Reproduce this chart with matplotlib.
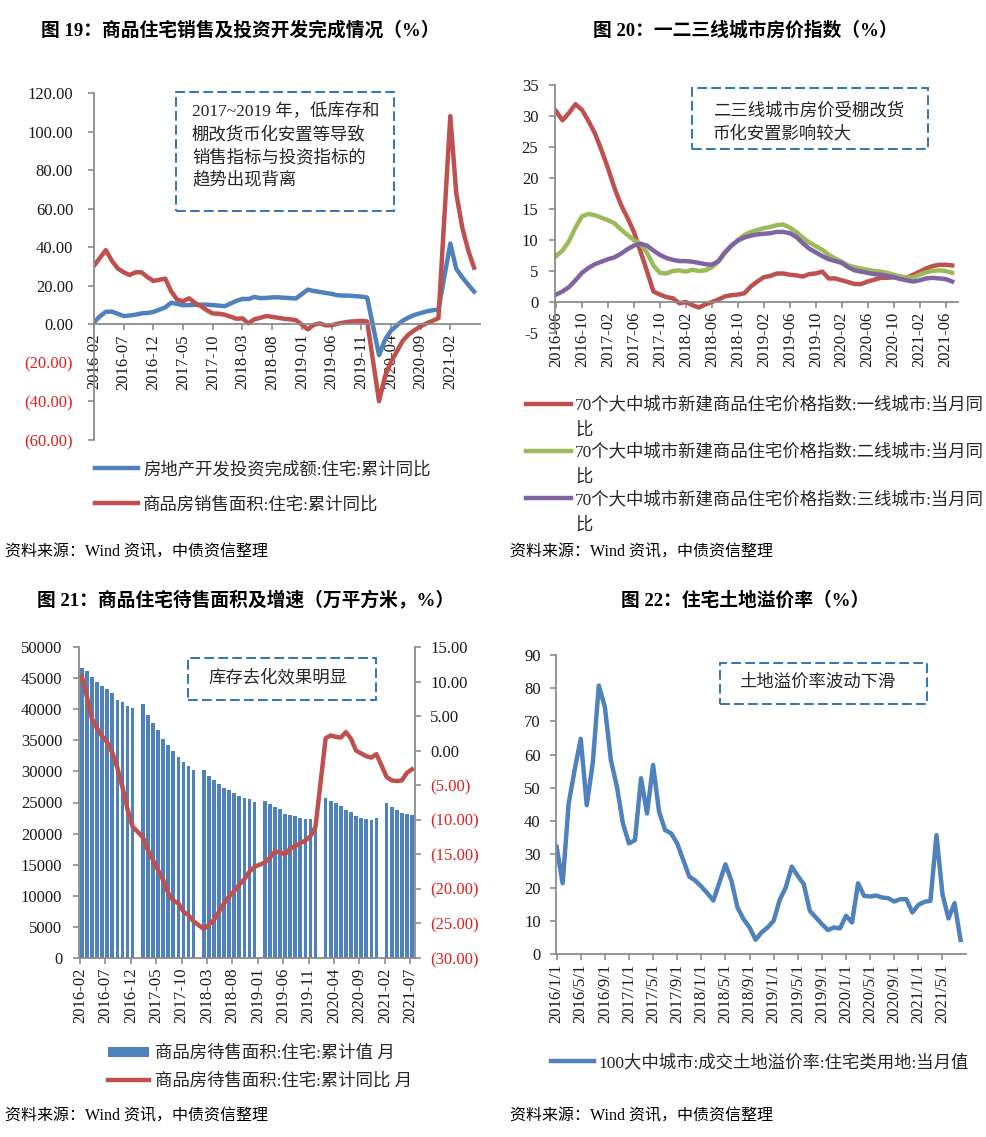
import matplotlib
matplotlib.use("Agg")
import matplotlib.pyplot as plt
from matplotlib.patches import Rectangle
import numpy as np
import pandas as pd

plt.rcParams['font.family'] = ['Liberation Serif', 'Noto Sans CJK SC']
plt.rcParams['axes.unicode_minus'] = False

W, H = 987, 1137
BLUE = '#4F81BD'
RED = '#C0504D'
GREEN = '#9BBB59'
PURPLE = '#8064A2'
AXC = '#8c8c8c'
BOXC = '#2E75B6'
NEG = '#E0201E'
TXT = '#1a1a1a'

# ---------------- data ----------------
# Fig 19: cumulative YoY (%), 2016-02 .. 2021-06, no January release
p1_months = [p for p in pd.period_range('2016-02', '2021-06', freq='M') if p.month != 1]
invest_yoy = [1.0, 4.2, 6.5, 6.6, 5.5, 4.3, 4.6, 5.0, 5.7, 5.9, 6.4,
              8.8, 11.2, 10.6, 9.9, 10.0, 10.1, 10.2, 10.2, 10.0, 9.7, 9.4,
              12.2, 13.2, 13.1, 14.2, 13.6, 13.7, 14.0, 14.0, 13.8, 13.6, 13.4,
              18.0, 17.3, 16.8, 16.3, 15.8, 15.1, 14.9, 14.9, 14.6, 14.4, 13.9,
              -16.0, -8.0, -3.3, -0.6, 1.9, 3.6, 4.9, 5.8, 6.7, 7.3, 7.6,
              41.9, 28.8, 24.4, 20.6, 17.0]
sales_yoy = [30.4, 34.5, 38.5, 33.0, 29.0, 27.0, 25.6, 27.0, 27.0, 24.5, 22.5,
             23.7, 17.1, 12.8, 12.0, 13.5, 11.1, 9.4, 7.3, 5.6, 5.5, 5.0,
             2.9, 3.1, 0.5, 2.6, 3.4, 4.3, 3.9, 3.4, 2.9, 2.6, 2.2,
             -2.6, -0.3, 0.5, -0.5, -0.5, 0.3, 0.9, 1.4, 1.6, 1.8, 1.5,
             -39.9, -27.0, -19.5, -14.0, -8.5, -5.2, -3.0, -1.0, 0.5, 1.8, 3.2,
             108.0, 68.0, 50.4, 38.5, 29.4]
p1_labels = ['房地产开发投资完成额:住宅:累计同比', '商品房销售面积:住宅:累计同比']

# Fig 20: 70-city new home price index YoY (%), 2016-06 .. 2021-07
p2_months = list(pd.period_range('2016-06', '2021-07', freq='M'))
tier1 = [30.8, 29.3, 30.5, 31.9, 31.0, 29.2, 27.2, 24.5, 21.6, 18.4,
         15.7, 13.6, 11.3, 8.2, 5.0, 1.7, 1.2, 0.8, 0.6, -0.2,
         0.0, -0.5, -0.9, -0.4, 0.0, 0.4, 0.9, 1.1, 1.2, 1.4,
         2.5, 3.3, 4.0, 4.2, 4.6, 4.6, 4.4, 4.3, 4.1, 4.5,
         4.6, 4.9, 3.8, 3.8, 3.5, 3.2, 2.9, 2.9, 3.3, 3.6,
         3.9, 3.9, 4.0, 4.1, 3.9, 4.4, 4.9, 5.4, 5.8, 6.0,
         6.0, 5.9]
tier2 = [7.4, 8.3, 9.8, 12.0, 13.8, 14.2, 14.0, 13.6, 13.2, 12.7,
         11.7, 10.8, 10.0, 9.4, 8.0, 5.9, 4.7, 4.6, 5.0, 5.1,
         4.9, 5.2, 5.0, 5.1, 5.6, 6.5, 7.9, 9.0, 10.0, 10.8,
         11.3, 11.6, 11.9, 12.1, 12.4, 12.5, 12.0, 11.3, 10.4, 9.6,
         9.0, 8.4, 7.6, 7.0, 6.5, 5.9, 5.6, 5.4, 5.2, 5.0,
         4.9, 4.7, 4.4, 4.1, 3.9, 4.0, 4.4, 4.8, 5.0, 5.1,
         5.0, 4.7]
tier3 = [1.2, 1.7, 2.4, 3.5, 4.7, 5.5, 6.1, 6.5, 6.9, 7.2,
         7.8, 8.5, 9.1, 9.4, 9.1, 8.3, 7.6, 7.1, 6.8, 6.6,
         6.6, 6.5, 6.3, 6.1, 6.0, 6.6, 8.0, 9.1, 9.9, 10.4,
         10.7, 10.9, 11.0, 11.1, 11.3, 11.3, 11.1, 10.5, 9.5, 8.6,
         8.0, 7.4, 6.9, 6.6, 6.3, 5.6, 5.1, 4.9, 4.7, 4.5,
         4.4, 4.2, 4.0, 3.7, 3.5, 3.3, 3.5, 3.8, 3.9, 3.8,
         3.7, 3.3]
p2_labels = ['70个大中城市新建商品住宅价格指数:一线城市:当月同\n比',
             '70个大中城市新建商品住宅价格指数:二线城市:当月同\n比',
             '70个大中城市新建商品住宅价格指数:三线城市:当月同\n比']

# Fig 21: residential floor space for sale (10k m2) and YoY (%), 2016-02 .. 2021-07
p3_months = [p for p in pd.period_range('2016-02', '2021-07', freq='M') if p.month != 1]
stock = [46680, 46140, 45180, 44380, 43680, 43300, 42660, 41430, 41160, 40470, 40250,
         40790, 39130, 37850, 36610, 35270, 34210, 33240, 32330, 31530, 30890, 30300,
         30190, 29280, 28590, 28050, 27410, 26980, 26550, 26070, 25750, 25530, 25110,
         25270, 24730, 24300, 23930, 23230, 22960, 22800, 22540, 22380, 22320, 22280,
         25800, 25270, 24840, 24410, 23870, 23500, 22860, 22430, 22320, 22160, 22480,
         24840, 24200, 23770, 23390, 23230, 22910]
stock_yoy = [10.7, 7.8, 4.6, 3.2, 2.1, 1.2, -0.3, -2.5, -5.3, -8.5, -11.0,
             -12.5, -14.4, -15.8, -17.3, -18.7, -20.6, -21.7, -22.1, -23.3, -23.8, -24.7,
             -25.8, -25.2, -24.5, -23.3, -22.1, -21.1, -20.3, -19.4, -18.6, -17.5, -16.8,
             -16.2, -15.5, -14.6, -14.7, -15.0, -14.2, -13.8, -13.4, -13.0, -12.4, -11.0,
             1.8, 2.2, 2.0, 1.9, 2.7, 1.7, 0.0, -0.4, -0.8, -1.0, -0.5,
             -3.8, -4.3, -4.4, -4.3, -3.2, -2.7]
p3_labels = ['商品房待售面积:住宅:累计值 月', '商品房待售面积:住宅:累计同比 月']

# Fig 22: land premium rate (%), 2016-01 .. 2021-08
p4_months = list(pd.period_range('2016-01', '2021-08', freq='M'))
premium = [32.3, 21.3, 45.3, 55.5, 64.8, 44.8, 57.5, 80.8, 74.4, 58.4,
           50.4, 39.3, 33.3, 34.3, 52.9, 42.3, 56.9, 42.8, 37.3, 36.3,
           33.3, 28.3, 23.3, 22.1, 20.3, 18.3, 16.1, 21.5, 27.0, 22.0,
           14.0, 10.5, 8.0, 4.3, 6.5, 8.0, 10.0, 16.3, 20.0, 26.3,
           23.5, 21.0, 13.0, 11.0, 9.0, 7.2, 8.0, 7.7, 11.5, 9.5,
           21.3, 17.5, 17.3, 17.6, 17.0, 16.8, 15.8, 16.5, 16.5, 12.5,
           14.8, 15.7, 16.0, 35.8, 18.0, 10.7, 15.3, 4.2]
p4_label = '100大中城市:成交土地溢价率:住宅类用地:当月值'

titles = ['图 19：商品住宅销售及投资开发完成情况（%）', '图 20：一二三线城市房价指数（%）',
          '图 21：商品住宅待售面积及增速（万平方米，%）', '图 22：住宅土地溢价率（%）']
source = '资料来源：Wind 资讯，中债资信整理'


# ---------------- helpers ----------------
fig = plt.figure(figsize=(W / 100, H / 100), dpi=100)


def add_ax(l, t, r, b):
    return fig.add_axes([l / W, 1 - b / H, (r - l) / W, (b - t) / H])


def idx(months, start):
    return [(p - start).n for p in months]


def style(ax, ypad=8):
    for s in ['top', 'right']:
        ax.spines[s].set_visible(False)
    for s in ['left', 'bottom']:
        ax.spines[s].set_color(AXC)
        ax.spines[s].set_linewidth(1.3)
    ax.tick_params(axis='both', colors=AXC, labelcolor=TXT, labelsize=12,
                   direction='out', length=4, width=1.2)
    ax.tick_params(axis='y', pad=ypad)
    ax.tick_params(axis='x', pad=3)
    ax.set_facecolor('none')


def fmt_neg(ax, ticks):
    labels = [f'{v:.2f}' if v >= 0 else f'({abs(v):.2f})' for v in ticks]
    ax.set_yticks(ticks)
    ax.set_yticklabels(labels)
    for t, v in zip(ax.get_yticklabels(), ticks):
        t.set_color(NEG if v < 0 else TXT)


def fig_px(x, y):
    return x / W, 1 - y / H


def note(x0, y0, x1, y1, lines, tx, ty, dy=23):
    fig.add_artist(Rectangle(fig_px(x0, y1), (x1 - x0) / W, (y1 - y0) / H,
                             transform=fig.transFigure, fill=False, ec=BOXC,
                             lw=1.4, ls=(0, (5, 2.2))))
    for i, s in enumerate(lines):
        fig.text(*fig_px(tx, ty + i * dy), s, ha='left', va='center',
                 fontsize=12.5, color='#262626')


LW = 3.2

# ---------------- Fig 19 ----------------
ax1 = add_ax(94, 93, 480, 440)
style(ax1, ypad=11)
x1 = idx(p1_months, p1_months[0])
ax1.plot(x1, invest_yoy, color=BLUE, lw=LW, solid_joinstyle='round', label=p1_labels[0])
ax1.plot(x1, sales_yoy, color=RED, lw=LW, solid_joinstyle='round', label=p1_labels[1])
ax1.set_xlim(0, 65)
ax1.set_ylim(-60, 120)
fmt_neg(ax1, list(range(-60, 121, 20)))
ax1.spines['bottom'].set_position(('data', 0))
t1 = [p1_months[0] + 5 * i for i in range(13)]
ax1.set_xticks(idx(t1, p1_months[0]))
ax1.set_xticklabels([p.strftime('%Y-%m') for p in t1], rotation=90)
ax1.legend(loc='upper left', bbox_to_anchor=fig_px(86, 453), bbox_transform=fig.transFigure,
           frameon=False, fontsize=12.5, handlelength=2.5, handletextpad=0.3,
           labelspacing=1.05, borderpad=0, labelcolor='#262626')

# ---------------- Fig 20 ----------------
ax2 = add_ax(555, 85, 958, 333)
style(ax2, ypad=8)
x2 = idx(p2_months, p2_months[0])
ax2.plot(x2, tier1, color=RED, lw=LW, solid_joinstyle='round', label=p2_labels[0])
ax2.plot(x2, tier2, color=GREEN, lw=LW, solid_joinstyle='round', label=p2_labels[1])
ax2.plot(x2, tier3, color=PURPLE, lw=LW, solid_joinstyle='round', label=p2_labels[2])
ax2.set_xlim(-0.15, 61.9)
ax2.set_ylim(-5, 35)
ax2.set_yticks(range(-5, 36, 5))
ax2.spines['bottom'].set_position(('data', 0))
t2 = [p2_months[0] + 4 * i for i in range(16)]
ax2.set_xticks(idx(t2, p2_months[0]))
ax2.set_xticklabels([p.strftime('%Y-%m') for p in t2], rotation=90)
leg2 = ax2.legend(loc='upper left', bbox_to_anchor=fig_px(517, 388), bbox_transform=fig.transFigure,
                  frameon=False, fontsize=12.5, handlelength=2.6, handletextpad=0.25,
                  handleheight=1.0, labelspacing=0.3, borderpad=0, labelcolor='#262626')
for t in leg2.get_texts():
    t.set_linespacing(1.7)
try:
    for col in leg2._legend_handle_box.get_children():
        for row in col.get_children():
            row.align = 'top'
except Exception:
    pass

# ---------------- Fig 21 ----------------
ax3 = add_ax(79, 647, 415, 958)
style(ax3, ypad=8)
ax3r = ax3.twinx()
x3 = np.array(idx(p3_months, p3_months[0])) + 0.36
bars = ax3.bar(x3, stock, width=0.72, color=BLUE, edgecolor='none', label=p3_labels[0])
line3, = ax3r.plot(x3, stock_yoy, color=RED, lw=LW, solid_joinstyle='round', label=p3_labels[1])
ax3.set_xlim(-0.2, 65.95)
ax3.set_ylim(0, 50000)
ax3.set_yticks(range(0, 50001, 5000))
ax3r.set_ylim(-30, 15)
for s in ['top', 'left', 'bottom']:
    ax3r.spines[s].set_visible(False)
ax3r.spines['right'].set_color(AXC)
ax3r.spines['right'].set_linewidth(1.3)
ax3r.tick_params(axis='y', colors=AXC, labelcolor=TXT, labelsize=12, direction='out',
                 length=4, width=1.2, pad=7)
fmt_neg(ax3r, list(range(-30, 16, 5)))
t3 = [p3_months[0] + 5 * i for i in range(14)]
ax3.set_xticks(idx(t3, p3_months[0]))
ax3.set_xticklabels([p.strftime('%Y-%m') for p in t3], rotation=90)
ax3.legend(handles=[bars, line3], loc='upper left', bbox_to_anchor=fig_px(99, 1037),
           bbox_transform=fig.transFigure, frameon=False, fontsize=12.5, handlelength=2.4,
           handleheight=0.5, handletextpad=0.3, labelspacing=0.65, borderpad=0,
           labelcolor='#262626')

# ---------------- Fig 22 ----------------
ax4 = add_ax(556, 655, 966, 954)
style(ax4, ypad=7)
x4 = idx(p4_months, p4_months[0])
ax4.plot(x4, premium, color=BLUE, lw=LW, solid_joinstyle='round', label=p4_label)
ax4.set_xlim(-0.1, 67.9)
ax4.set_ylim(0, 90)
ax4.set_yticks(range(0, 91, 10))
t4 = [p4_months[0] + 4 * i for i in range(17)]
ax4.set_xticks(idx(t4, p4_months[0]))
ax4.set_xticklabels([f'{p.year}/{p.month}/1' for p in t4], rotation=90)
ax4.legend(loc='upper left', bbox_to_anchor=fig_px(542, 1046), bbox_transform=fig.transFigure,
           frameon=False, fontsize=12.5, handlelength=2.5, handletextpad=0.25,
           borderpad=0, labelcolor='#262626')

# ---------------- titles / notes / sources ----------------
for (x, y), s in zip([(240, 30), (745, 30), (246, 601), (745, 601)], titles):
    fig.text(*fig_px(x, y), s, ha='center', va='center', fontsize=13.5,
             fontweight='bold', color='black')
for x, y in [(5, 553), (510, 553), (5, 1117), (510, 1117)]:
    fig.text(*fig_px(x, y), source, ha='left', va='center', fontsize=11.5, color='black')

note(176, 92, 394, 211, ['2017~2019 年，低库存和', '棚改货币化安置等导致',
                         '销售指标与投资指标的', '趋势出现背离'], 192, 112, 22.8)
note(692, 88, 928, 149, ['二三线城市房价受棚改货', '币化安置影响较大'], 713, 111, 22.8)
note(188, 658, 376, 700, ['库存去化效果明显'], 208, 678)
note(720, 663, 927, 704, ['土地溢价率波动下滑'], 739, 683)

fig.savefig('out.png', dpi=100, facecolor='white')
